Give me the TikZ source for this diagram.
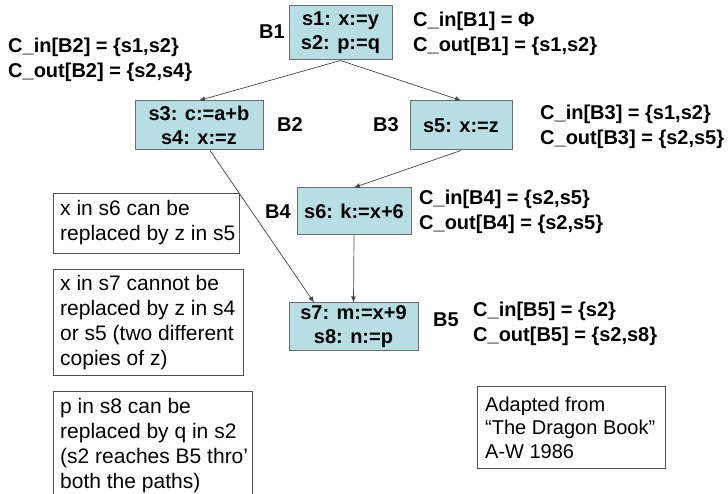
\documentclass[tikz,border=0pt]{standalone}
\usepackage{fontspec}
\setmainfont{Liberation Sans}
\usetikzlibrary{arrows.meta}
\definecolor{blockfill}{RGB}{183,223,227}
\definecolor{blockline}{RGB}{110,110,110}
\definecolor{edgeline}{RGB}{70,70,70}
\definecolor{noteline}{RGB}{80,80,80}
\begin{document}
\begin{tikzpicture}[x=1pt,y=-1pt,
  block/.style={draw=blockline, fill=blockfill, line width=1pt, inner sep=0pt,
    align=center, font=\fontsize{20}{24}\selectfont\bfseries},
  tag/.style={font=\fontsize{20}{24}\selectfont\bfseries, inner sep=0pt, anchor=west},
  sets/.style={font=\fontsize{20}{25}\selectfont\bfseries, inner sep=0pt,
    anchor=west, align=left},
  notebox/.style={draw=noteline, line width=0.8pt, anchor=north west, inner sep=0pt},
  notetext/.style={font=\fontsize{21}{25}\selectfont, inner sep=0pt,
    anchor=west, align=left},
  flow/.style={draw=edgeline, line width=0.7pt, -{Latex[length=6pt,width=5pt]}},
]
\useasboundingbox (0,0) rectangle (728,494);

% basic blocks
\node[block, minimum width=103, minimum height=54] (b1) at (340.5,33) {s1: x:=y\\s2: p:=q};
\node[block, minimum width=128, minimum height=49] (b2) at (199,125.5) {s3: c:=a+b\\s4: x:=z};
\node[block, minimum width=102, minimum height=49] (b3) at (461,125.5) {s5: x:=z};
\node[block, minimum width=114, minimum height=47] (b4) at (354,211.5) {s6: k:=x+6};
\node[block, minimum width=129, minimum height=47] (b5) at (353.5,326.5) {s7: m:=x+9\\s8: n:=p};

% block names
\node[tag] (t1) at (259,32) {B1};
\node[tag] (t2) at (277,125) {B2};
\node[tag] (t3) at (373,125) {B3};
\node[tag] (t4) at (265,212) {B4};
\node[tag] (t5) at (433,320) {B5};

% copy sets
\node[sets] (c1) at (413,33.5) {C\_in[B1] = Φ\\C\_out[B1] = \{s1,s2\}};
\node[sets] (c2) at (8,60) {C\_in[B2] = \{s1,s2\}\\C\_out[B2] = \{s2,s4\}};
\node[sets] (c3) at (540,127) {C\_in[B3] = \{s1,s2\}\\C\_out[B3] = \{s2,s5\}};
\node[sets] (c4) at (419,211.5) {C\_in[B4] = \{s2,s5\}\\C\_out[B4] = \{s2,s5\}};
\node[sets] (c5) at (473,324) {C\_in[B5] = \{s2\}\\C\_out[B5] = \{s2,s8\}};

% flow edges
\draw[flow] (b1.south) -- (b2.north);
\draw[flow] (b1.south) -- (b3.north);
\draw[flow] ([xshift=11pt]b2.south) -- ([xshift=-39.5pt]b5.north);
\draw[flow] (b3.south) -- (b4.north);
\draw[flow] (b4.south) -- (b5.north);

% remarks
\node[notebox, minimum width=186, minimum height=60] (n1) at (53,193) {};
\node[notetext] (n1t) at (60,222.5) {x in s6 can be\\replaced by z in s5};
\node[notebox, minimum width=190, minimum height=106] (n2) at (53,269) {};
\node[notetext] (n2t) at (60,322.5) {x in s7 cannot be\\replaced by z in s4\\or s5 (two different\\copies of z)};
\node[notebox, minimum width=199, minimum height=130] (n3) at (53,391) {};
\node[notetext] (n3t) at (60,446) {p in s8 can be\\replaced by q in s2\\(s2 reaches B5 thro'\\both the paths)};

% source
\node[notebox, minimum width=188, minimum height=82] (d) at (477,386) {};
\node[notetext, font=\fontsize{20}{23.5}\selectfont] (dt) at (485,427.5) {Adapted from\\“The Dragon Book”\\A-W 1986};
\end{tikzpicture}
\end{document}
